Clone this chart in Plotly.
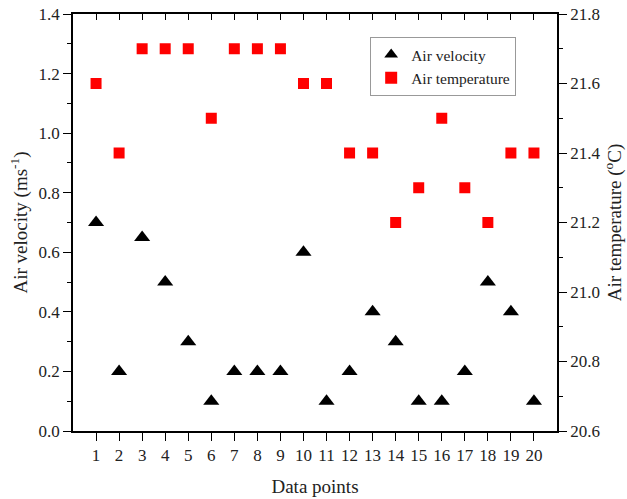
import plotly.graph_objects as go

points = list(range(1, 21))
air_velocity = [0.7, 0.2, 0.65, 0.5, 0.3, 0.1, 0.2, 0.2, 0.2, 0.6,
                0.1, 0.2, 0.4, 0.3, 0.1, 0.1, 0.2, 0.5, 0.4, 0.1]
air_temperature = [21.6, 21.4, 21.7, 21.7, 21.7, 21.5, 21.7, 21.7, 21.7, 21.6,
                   21.6, 21.4, 21.4, 21.2, 21.3, 21.5, 21.3, 21.2, 21.4, 21.4]

FONT = "Liberation Serif"

fig = go.Figure()
fig.add_trace(go.Scatter(
    x=points, y=air_velocity, mode="markers", name="Air velocity",
    marker=dict(symbol="triangle-up", size=14, color="black"),
    xaxis="x", yaxis="y"))
fig.add_trace(go.Scatter(
    x=points, y=air_temperature, mode="markers", name="Air temperature",
    marker=dict(symbol="square", size=11, color="#ff0000"),
    xaxis="x2", yaxis="y2"))

fig.update_layout(
    width=627, height=499,
    margin=dict(l=73, r=70, t=14, b=68, autoexpand=False),
    plot_bgcolor="white", paper_bgcolor="white",
    font=dict(family=FONT, size=17, color="#222222"),
    showlegend=True,
    legend=dict(x=0.614, y=0.945, xanchor="left", yanchor="top",
                bordercolor="#999999", borderwidth=1, bgcolor="white",
                font=dict(family=FONT, size=15.5, color="#222222"), itemsizing="constant",
                tracegroupgap=0, itemwidth=30),
    xaxis=dict(range=[0, 21], tickvals=points, ticktext=[str(p) for p in points],
               ticks="outside", ticklen=8, tickcolor="black", tickwidth=1,
               showline=True, linecolor="black", linewidth=1.5,
               showgrid=False, zeroline=False, automargin=False,
               title=dict(text="Data points", font=dict(size=19), standoff=16),
               tickfont=dict(size=17)),
    xaxis2=dict(range=[0, 21], overlaying="x", side="top", anchor="y",
                tickvals=points, ticks="inside", ticklen=6, tickcolor="black",
                showticklabels=False, showline=True, linecolor="black", linewidth=1.5,
                showgrid=False, zeroline=False, automargin=False),
    yaxis=dict(range=[0, 1.4], dtick=0.2, tickformat=".1f",
               ticks="outside", ticklen=8, tickcolor="black",
               minor=dict(dtick=0.1, ticks="outside", ticklen=4, tickcolor="black"),
               showline=True, linecolor="black", linewidth=1.5,
               showgrid=False, zeroline=False, automargin=False,
               title=dict(text="Air velocity (ms<sup>-1</sup>)", font=dict(size=19), standoff=6),
               tickfont=dict(size=17)),
    yaxis2=dict(range=[20.6, 21.8], dtick=0.2, tickformat=".1f", overlaying="y",
                side="right", anchor="x2",
                ticks="outside", ticklen=8, tickcolor="black",
                minor=dict(dtick=0.1, ticks="outside", ticklen=4, tickcolor="black"),
                showline=True, linecolor="black", linewidth=1.5,
                showgrid=False, zeroline=False, automargin=False,
                title=dict(text="Air temperature (<sup>o</sup>C)", font=dict(size=19), standoff=8),
                tickfont=dict(size=17)),
)

fig.write_html("out.html")
